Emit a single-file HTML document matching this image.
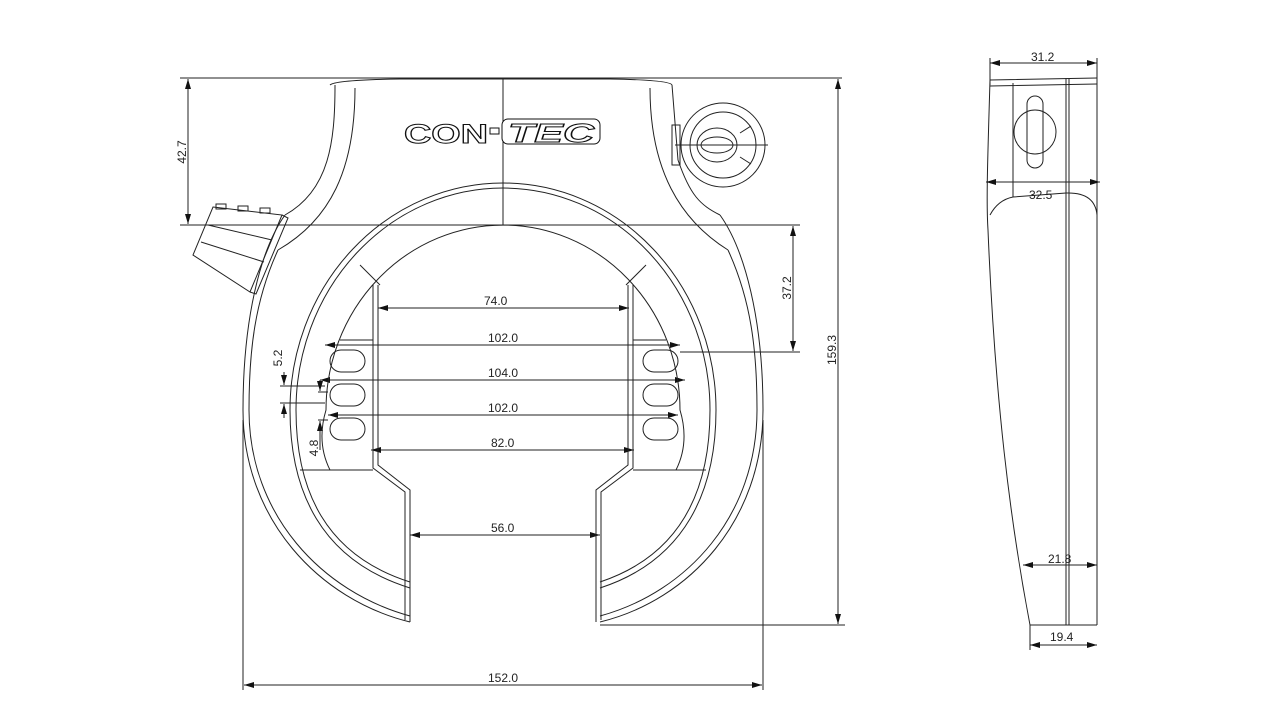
<!DOCTYPE html>
<html><head><meta charset="utf-8"><style>
html,body{margin:0;padding:0;background:#fff;}
svg{display:block;}
text{font-family:"Liberation Sans",sans-serif;font-size:12px;fill:#222;}
</style></head><body>
<svg width="1280" height="720" viewBox="0 0 1280 720" xmlns="http://www.w3.org/2000/svg">
<defs>
<marker id="a" viewBox="0 0 10 6" refX="10" refY="3" markerWidth="10" markerHeight="6" orient="auto-start-reverse" markerUnits="userSpaceOnUse"><path d="M0,0 L10,3 L0,6z" fill="#111"/></marker>
</defs>
<g fill="none" stroke="#222" stroke-width="1">
<line x1="180" y1="78" x2="842" y2="78"/>
<line x1="180" y1="225" x2="800" y2="225"/>
<line x1="680" y1="352" x2="800" y2="352"/>
<line x1="600" y1="625" x2="845" y2="625"/>
<line x1="243" y1="420" x2="243" y2="690"/>
<line x1="763" y1="420" x2="763" y2="690"/>
<line x1="503" y1="78" x2="503" y2="225"/>
<line x1="188" y1="79" x2="188" y2="224" marker-start="url(#a)" marker-end="url(#a)"/>
<line x1="793" y1="226" x2="793" y2="351" marker-start="url(#a)" marker-end="url(#a)"/>
<line x1="838" y1="79" x2="838" y2="624" marker-start="url(#a)" marker-end="url(#a)"/>
<line x1="244" y1="685" x2="762" y2="685" marker-start="url(#a)" marker-end="url(#a)"/>
<line x1="378" y1="308" x2="629" y2="308" marker-start="url(#a)" marker-end="url(#a)"/>
<line x1="325" y1="345" x2="680" y2="345" marker-start="url(#a)" marker-end="url(#a)"/>
<line x1="320" y1="380" x2="685" y2="380" marker-start="url(#a)" marker-end="url(#a)"/>
<line x1="328" y1="415" x2="678" y2="415" marker-start="url(#a)" marker-end="url(#a)"/>
<line x1="371" y1="450" x2="634" y2="450" marker-start="url(#a)" marker-end="url(#a)"/>
<line x1="410" y1="535" x2="600" y2="535" marker-start="url(#a)" marker-end="url(#a)"/>
<line x1="280" y1="386" x2="325" y2="386"/><line x1="280" y1="403" x2="325" y2="403"/>
<line x1="284" y1="372" x2="284" y2="385" marker-end="url(#a)"/><line x1="284" y1="418" x2="284" y2="404" marker-end="url(#a)"/>
<line x1="318" y1="392" x2="328" y2="392"/><line x1="318" y1="420" x2="328" y2="420"/>
<line x1="320" y1="380" x2="320" y2="391" marker-end="url(#a)"/><line x1="320" y1="450" x2="320" y2="421" marker-end="url(#a)"/>
<!-- outer ring -->
<path d="M285,215 C260,250 243,320 243,410 C243,520 320,600 410,622"/>
<path d="M720,215 C745,250 763,320 763,410 C763,520 690,600 600,622"/>
<path d="M278,250 C255,300 249,350 249,410 C249,515 322,592 410,616"/>
<path d="M728,250 C751,300 757,350 757,410 C757,515 688,592 600,616"/>
<!-- body -->
<path d="M330,85 Q335,80 400,79 L610,79 Q670,80 672,85"/>
<path d="M335,85 C335,140 330,190 285,215"/>
<path d="M355,88 C355,170 330,220 278,250"/>
<path d="M672,85 L678,160 C690,195 700,205 720,215"/>
<path d="M650,88 C650,170 680,220 728,250"/>
<!-- button -->
<path d="M213,207 L282,215 L250,292 L193,255 Z"/>
<path d="M282,215 L288,218 L256,294 L250,292"/>
<line x1="208" y1="225" x2="272" y2="240"/><line x1="201" y1="242" x2="264" y2="262"/>
<rect x="216" y="204" width="10" height="5"/><rect x="238" y="206" width="10" height="5"/><rect x="260" y="208" width="10" height="5"/>
<!-- key -->
<circle cx="723" cy="145" r="42"/><circle cx="723" cy="145" r="33"/>
<ellipse cx="717" cy="145" rx="20" ry="17"/><ellipse cx="717" cy="145" rx="16" ry="8"/>
<line x1="675" y1="145" x2="768" y2="145"/>
<line x1="740" y1="133" x2="751" y2="126"/><line x1="740" y1="157" x2="751" y2="164"/>
<rect x="672" y="125" width="8" height="40"/>
<!-- ring band -->
<path d="M410,588 C320,560 290,490 290,410 A213,227 0 1 1 716,410 C716,490 686,560 600,588"/>
<path d="M410,582 C325,555 296,490 296,410 A207,222 0 1 1 710,410 C710,490 681,555 600,582"/>
<path d="M330,470 C320,450 320,430 326,410 A177,185 0 0 1 680,410 C686,430 686,450 676,470"/>
<line x1="360" y1="265" x2="380" y2="285"/><line x1="646" y1="265" x2="626" y2="285"/>
<line x1="300" y1="470" x2="373" y2="470"/><line x1="633" y1="470" x2="706" y2="470"/>
<!-- plates -->
<path d="M373,285 L373,468 L405,492 L405,620"/>
<path d="M378,285 L378,465 L410,490 L410,622"/>
<path d="M633,285 L633,468 L601,492 L601,620"/>
<path d="M628,285 L628,465 L596,490 L596,622"/>
<line x1="340" y1="340" x2="373" y2="340"/><line x1="633" y1="340" x2="666" y2="340"/>
<rect x="330" y="350" width="35" height="22" rx="11"/><rect x="330" y="384" width="35" height="22" rx="11"/><rect x="330" y="418" width="35" height="22" rx="11"/>
<rect x="643" y="350" width="35" height="22" rx="11"/><rect x="643" y="384" width="35" height="22" rx="11"/><rect x="643" y="418" width="35" height="22" rx="11"/>
<!-- side view -->
<line x1="990" y1="63" x2="1097" y2="63" marker-start="url(#a)" marker-end="url(#a)"/>
<line x1="990" y1="58" x2="990" y2="85"/><line x1="1097" y1="58" x2="1097" y2="625"/>
<path d="M990,80 L1097,78 M990,86 L1097,84"/>
<path d="M990,80 C988,150 986,200 988,230 C995,400 1010,520 1030,625 L1097,625"/>
<line x1="1066" y1="78" x2="1066" y2="625"/><line x1="1069" y1="78" x2="1069" y2="625"/>
<line x1="1013" y1="83" x2="1013" y2="197"/>
<path d="M990,215 Q998,200 1013,197 L1066,193 Q1095,192 1097,215"/>
<line x1="986" y1="182" x2="1100" y2="182" marker-start="url(#a)" marker-end="url(#a)"/>
<line x1="1023" y1="565" x2="1097" y2="565" marker-start="url(#a)" marker-end="url(#a)"/>
<line x1="1030" y1="645" x2="1097" y2="645" marker-start="url(#a)" marker-end="url(#a)"/>
<line x1="1030" y1="625" x2="1030" y2="650"/>
<rect x="1027" y="96" width="16" height="72" rx="8"/>
<ellipse cx="1035" cy="132" rx="21" ry="22"/>
</g>
<g font-family="Liberation Sans,sans-serif" font-weight="bold" font-size="27" fill="#fff" stroke="#111" stroke-width="1">
<text x="404" y="143" textLength="84" lengthAdjust="spacingAndGlyphs" style="fill:#fff;font-size:27px;">CON</text>
<rect x="490" y="128" width="9" height="6" fill="#fff"/>
<rect x="502" y="119" width="98" height="25" rx="6" fill="#fff"/>
<text x="508" y="142" textLength="86" lengthAdjust="spacingAndGlyphs" font-style="italic" style="fill:#fff;font-size:26px;">TEC</text>
</g>
<text x="484" y="305">74.0</text>
<text x="488" y="342">102.0</text>
<text x="488" y="377">104.0</text>
<text x="488" y="412">102.0</text>
<text x="491" y="447">82.0</text>
<text x="491" y="532">56.0</text>
<text x="488" y="682">152.0</text>
<text x="1031" y="61">31.2</text>
<text x="1029" y="199">32.5</text>
<text x="1048" y="563">21.8</text>
<text x="1050" y="641">19.4</text>
<text transform="translate(186,152) rotate(-90)" text-anchor="middle">42.7</text>
<text transform="translate(791,288) rotate(-90)" text-anchor="middle">37.2</text>
<text transform="translate(836,350) rotate(-90)" text-anchor="middle">159.3</text>
<text transform="translate(282,358) rotate(-90)" text-anchor="middle">5.2</text>
<text transform="translate(318,448) rotate(-90)" text-anchor="middle">4.8</text>
</svg>
</body></html>
